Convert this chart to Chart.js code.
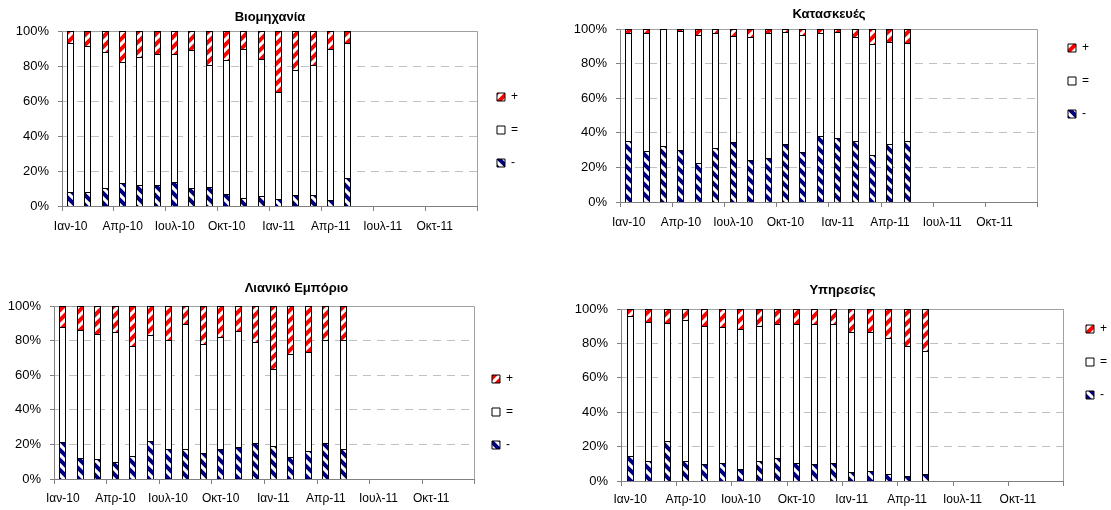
<!DOCTYPE html>
<html lang="el">
<head>
<meta charset="UTF-8" />
<title>Προσδοκίες ανά τομέα</title>
<script src="https://cdn.jsdelivr.net/npm/chart.js@4"></script>
<style>
  body { margin: 0; width: 1111px; height: 510px; overflow: hidden; background: #fff; position: relative; }
  canvas { position: absolute; }
</style>
</head>
<body>
<canvas id="c1"></canvas>
<canvas id="c2"></canvas>
<canvas id="c3"></canvas>
<canvas id="c4"></canvas>
<script>
const months = ["Ιαν-10", "Φεβ-10", "Μαρ-10", "Απρ-10", "Μαϊ-10", "Ιουν-10", "Ιουλ-10", "Αυγ-10",
  "Σεπ-10", "Οκτ-10", "Νοε-10", "Δεκ-10", "Ιαν-11", "Φεβ-11", "Μαρ-11", "Απρ-11", "Μαϊ-11",
  "Ιουν-11", "Ιουλ-11", "Αυγ-11", "Σεπ-11", "Οκτ-11", "Νοε-11", "Δεκ-11"];
const yTicks = [0, 20, 40, 60, 80, 100];

// Βιομηχανία
const indMinus = [8.2, 8.2, 10.1, 13.0, 11.8, 11.8, 13.5, 10.3, 10.7, 6.7, 4.8, 5.5, 3.8, 6.1, 6.5, 3.4, 15.8];
const indEqual = [84.8, 83.0, 77.7, 69.5, 73.5, 75.1, 73.4, 78.7, 69.7, 76.5, 84.9, 78.5, 61.5, 71.6, 74.3, 86.1, 77.5];
const indPlus  = [7.0, 8.8, 12.2, 17.5, 14.7, 13.1, 13.1, 11.0, 19.6, 16.8, 10.3, 16.0, 34.7, 22.3, 19.2, 10.5, 6.7];

// Κατασκευές
const conMinus = [35.1, 29.7, 32.6, 30.3, 22.8, 31.3, 34.6, 24.3, 25.7, 33.4, 28.8, 38.0, 37.1, 35.1, 27.2, 33.8, 35.5];
const conEqual = [62.8, 68.2, 67.4, 68.3, 73.7, 66.6, 61.2, 71.1, 72.2, 65.1, 67.7, 59.9, 61.4, 60.3, 63.9, 58.7, 56.4];
const conPlus  = [2.1, 2.1, 0, 1.4, 3.5, 2.1, 4.2, 4.6, 2.1, 1.5, 3.5, 2.1, 1.5, 4.6, 8.9, 7.5, 8.1];

// Λιανικό Εμπόριο
const retMinus = [21.1, 12.2, 11.4, 9.9, 13.3, 22.1, 17.6, 17.6, 14.9, 17.4, 18.6, 20.7, 19.0, 13.0, 15.9, 20.7, 17.6];
const retEqual = [66.5, 73.9, 72.7, 75.2, 63.3, 60.9, 62.7, 72.1, 63.0, 64.6, 67.1, 58.4, 44.8, 59.3, 57.6, 59.8, 62.7];
const retPlus  = [12.4, 13.9, 15.9, 14.9, 23.4, 17.0, 19.7, 10.3, 22.1, 18.0, 14.3, 20.9, 36.2, 27.7, 26.5, 19.5, 19.7];

// Υπηρεσίες
const serMinus = [14.6, 11.8, 23.3, 11.5, 9.7, 10.7, 7.0, 11.8, 13.6, 10.7, 10.1, 10.5, 5.0, 5.6, 4.3, 2.7, 3.9];
const serEqual = [81.5, 80.4, 68.4, 81.9, 80.2, 78.8, 81.2, 78.5, 77.5, 80.6, 81.2, 80.6, 81.6, 81.0, 78.6, 75.9, 71.4];
const serPlus  = [3.9, 7.8, 8.3, 6.6, 10.1, 10.5, 11.8, 9.7, 8.9, 8.7, 8.7, 8.9, 13.4, 13.4, 17.1, 21.4, 24.7];

Chart.defaults.font.family = '"Liberation Sans", Arial, sans-serif';
Chart.defaults.color = "#000";

// diagonal hatch fills like the excel patterns
function hatch(color, dir) {
  const s = 10;
  const c = document.createElement("canvas");
  c.width = s; c.height = s;
  const g = c.getContext("2d");
  g.fillStyle = "#fff";
  g.fillRect(0, 0, s, s);
  g.strokeStyle = color;
  g.lineWidth = 4;
  g.beginPath();
  for (const k of [-s, 0, s, 2 * s]) {
    if (dir === "/") { g.moveTo(k + 2, -2); g.lineTo(k - s - 2, s + 2); }
    else { g.moveTo(k - 2, -2); g.lineTo(k + s + 2, s + 2); }
  }
  g.stroke();
  return g.createPattern(c, "repeat");
}
const redHatch = hatch("#ff0000", "/");
const navyHatch = hatch("#000080", "\\");

// solid gray top / right border of the plot area
const framePlugin = {
  id: "frame",
  beforeDatasetsDraw(chart) {
    const a = chart.chartArea, ctx = chart.ctx;
    ctx.save();
    ctx.strokeStyle = "#a0a0a0";
    ctx.lineWidth = 1;
    ctx.beginPath();
    ctx.moveTo(a.left, Math.round(a.top) + 0.5);
    ctx.lineTo(Math.round(a.right) - 0.5, Math.round(a.top) + 0.5);
    ctx.lineTo(Math.round(a.right) - 0.5, a.bottom);
    ctx.stroke();
    ctx.restore();
  }
};

// snap bars to whole pixels so the black outlines stay crisp
const snapPlugin = {
  id: "snap",
  beforeDatasetsDraw(chart) {
    chart.data.datasets.forEach((d, i) => {
      chart.getDatasetMeta(i).data.forEach((el) => {
        el.x = Math.floor(el.x) + 0.5;
        el.width = 7;
        el.y = Math.round(el.y);
        el.base = Math.round(el.base);
      });
    });
  }
};

// small horizontal nudges for title and legend boxes
const nudgePlugin = {
  id: "nudge",
  afterLayout(chart, args, opts) {
    if (chart.titleBlock && opts.title) { chart.titleBlock.left += opts.title; chart.titleBlock.right += opts.title; }
    if (chart.legend && opts.legend) { chart.legend.left += opts.legend; chart.legend.right += opts.legend; }
  }
};

const panels = [
  { id: "c1", title: "Βιομηχανία", minus: indMinus, equal: indEqual, plus: indPlus,
    x: 0, y: 0, w: 530, h: 240, axisW: 62, tTop: 8, tBot: 5.4, legTop: 56, xPad: 8, dt: 0, dl: -2 },
  { id: "c2", title: "Κατασκευές", minus: conMinus, equal: conEqual, plus: conPlus,
    x: 560, y: 0, w: 530, h: 236, axisW: 60, tTop: 4.2, tBot: 7.2, legTop: 7, xPad: 8, dt: 0, dl: 9 },
  { id: "c3", title: "Λιανικό Εμπόριο", minus: retMinus, equal: retEqual, plus: retPlus,
    x: 0, y: 270, w: 527, h: 243, axisW: 54, tTop: 8.2, tBot: 10.2, legTop: 68, xPad: 7.8, dt: 32, dl: -4 },
  { id: "c4", title: "Υπηρεσίες", minus: serMinus, equal: serEqual, plus: serPlus,
    x: 560, y: 270, w: 556, h: 245, axisW: 61, tTop: 10.2, tBot: 11.2, legTop: 18, xPad: 6.8, dt: 0, dl: 1 }
];

function makeChart(p) {
  const cv = document.getElementById(p.id);
  cv.width = p.w; cv.height = p.h;
  cv.style.left = p.x + "px";
  cv.style.top = p.y + "px";
  const bar = { borderColor: "#000", borderWidth: 1, borderSkipped: "start", barPercentage: 0.4, categoryPercentage: 1 };
  return new Chart(cv, {
    type: "bar",
    data: {
      labels: months,
      datasets: [
        Object.assign({ label: "-", data: p.minus, backgroundColor: navyHatch }, bar),
        Object.assign({ label: "=", data: p.equal, backgroundColor: "#fff" }, bar),
        Object.assign({ label: "+", data: p.plus, backgroundColor: redHatch }, bar)
      ]
    },
    options: {
      responsive: false,
      animation: false,
      layout: { padding: { top: 2, left: 0, right: 0, bottom: 0 } },
      scales: {
        x: {
          stacked: true,
          grid: {
            drawOnChartArea: false,
            tickLength: 5,
            tickColor: (c) => (c.index === undefined || c.index % 3 === 0) ? "#808080" : "rgba(0,0,0,0)"
          },
          border: { color: "#808080" },
          ticks: {
            autoSkip: false, maxRotation: 0, minRotation: 0, padding: p.xPad,
            font: { size: 12 },
            callback: (v, i) => i % 3 === 0 ? months[i] : ""
          },
          afterFit: (s) => { s.height = 34; }
        },
        y: {
          stacked: true,
          min: 0, max: 100,
          afterBuildTicks: (s) => { s.ticks = yTicks.map((v) => ({ value: v })); },
          grid: { color: "#c0c0c0", tickLength: 4, tickColor: "#808080" },
          border: { color: "#808080", dash: [8, 6] },
          ticks: { padding: 9, font: { size: 13 }, callback: (v) => v + "%" },
          afterFit: (s) => { s.width = p.axisW; }
        }
      },
      plugins: {
        title: {
          display: true, text: p.title, fullSize: false,
          font: { size: 13, weight: "bold" },
          padding: { top: p.tTop, bottom: p.tBot }
        },
        legend: {
          position: "right", align: "start", reverse: true,
          title: { display: true, text: "", font: { size: 10 }, padding: { top: p.legTop, bottom: 0 } },
          labels: { boxWidth: 8, boxHeight: 8, padding: 21, font: { size: 12 } }
        },
        nudge: { title: p.dt, legend: p.dl },
        tooltip: { enabled: false }
      }
    },
    plugins: [framePlugin, snapPlugin, nudgePlugin]
  });
}

panels.forEach(makeChart);
</script>
</body>
</html>
